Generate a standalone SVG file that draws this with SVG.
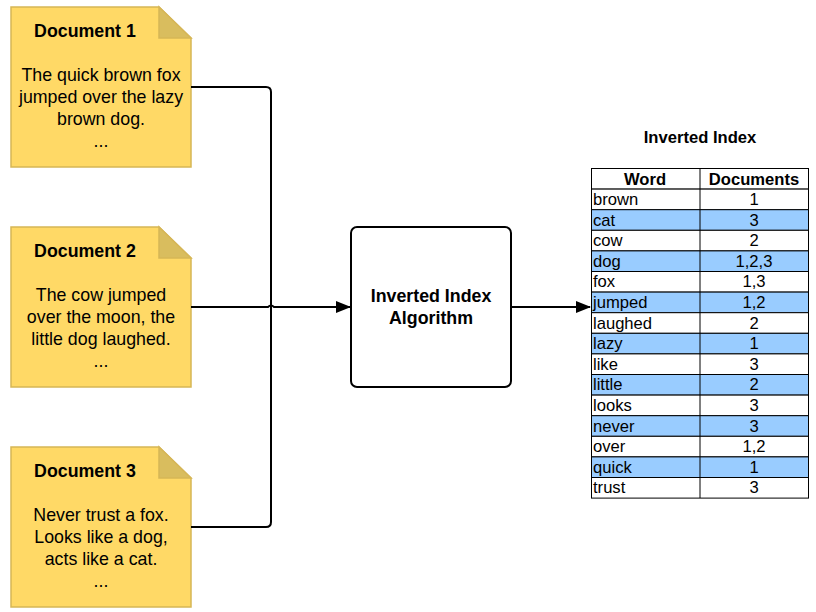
<svg xmlns="http://www.w3.org/2000/svg" width="816" height="612" viewBox="0 0 816 612">
<style>
.doc{fill:#ffd966;stroke:#d6b656;stroke-width:1.5}
.fold{fill:#d9bd5e;stroke:#d6b656;stroke-width:1.5}
.t{font-family:"Liberation Sans",Arial,sans-serif;font-size:17.8px;fill:#000;text-anchor:middle}
.b{font-weight:bold}
.c{fill:none;stroke:#000;stroke-width:2}
.cell{stroke:#000;stroke-width:1}
.w{fill:#fff}
.bl{fill:#99ccff}
.tt{font-family:"Liberation Sans",Arial,sans-serif;font-size:16.6px;fill:#000}
</style>
<defs>
<marker id="ah" markerWidth="15" markerHeight="12" refX="14" refY="6" orient="auto" markerUnits="userSpaceOnUse" viewBox="0 0 15 12">
<path d="M0,0 L15,6 L0,12 Z" fill="#000"/>
</marker>
</defs>
<rect width="816" height="612" fill="#fff"/>
<g id="doc1">
<path class="doc" d="M11,7 H159 L191,38 V167 H11 Z"/>
<path class="fold" d="M159,7 V38 H191 Z"/>
<text class="t b" x="85" y="37">Document 1</text>
<text class="t" x="101" y="81">The quick brown fox</text>
<text class="t" x="101" y="103">jumped over the lazy</text>
<text class="t" x="101" y="125">brown dog.</text>
<text class="t" x="101" y="147">...</text>
</g>
<g id="doc2">
<path class="doc" d="M11,227 H159 L191,258 V387 H11 Z"/>
<path class="fold" d="M159,227 V258 H191 Z"/>
<text class="t b" x="85" y="257">Document 2</text>
<text class="t" x="101" y="301">The cow jumped</text>
<text class="t" x="101" y="323">over the moon, the</text>
<text class="t" x="101" y="345">little dog laughed.</text>
<text class="t" x="101" y="367">...</text>
</g>
<g id="doc3">
<path class="doc" d="M11,447 H159 L191,478 V607 H11 Z"/>
<path class="fold" d="M159,447 V478 H191 Z"/>
<text class="t b" x="85" y="477">Document 3</text>
<text class="t" x="101" y="521">Never trust a fox.</text>
<text class="t" x="101" y="543">Looks like a dog,</text>
<text class="t" x="101" y="565">acts like a cat.</text>
<text class="t" x="101" y="587">...</text>
</g>
<g id="algorithm">
<rect x="351" y="227" width="160" height="160" rx="6" fill="#fff" stroke="#000" stroke-width="2"/>
<text class="t b" x="431" y="302">Inverted Index</text>
<text class="t b" x="431" y="324">Algorithm</text>
</g>
<g id="connectors">
<path class="c" d="M191,87 H266 Q271,87 271,92 V307"/>
<path class="c" d="M191,527 H266 Q271,527 271,522 V307"/>
<path class="c" d="M191,307 H268 Q271,304 274,307 H350" marker-end="url(#ah)"/>
<path class="c" d="M511,307 H590" marker-end="url(#ah)"/>
</g>
<g id="index">
<text class="tt b" x="700" y="143" text-anchor="middle">Inverted Index</text>
<rect class="cell w" x="591.5" y="168.5" width="217" height="20.6"/>
<text class="tt b" x="645" y="185" text-anchor="middle">Word</text>
<text class="tt b" x="754" y="185" text-anchor="middle">Documents</text>
<g id="rows">
<rect class="cell w" x="591.5" y="189.1" width="217" height="20.6"/><text class="tt" x="593" y="205">brown</text><text class="tt" x="754" y="205" text-anchor="middle">1</text>
<rect class="cell bl" x="591.5" y="209.7" width="217" height="20.6"/><text class="tt" x="593" y="225.6">cat</text><text class="tt" x="754" y="225.6" text-anchor="middle">3</text>
<rect class="cell w" x="591.5" y="230.3" width="217" height="20.6"/><text class="tt" x="593" y="246.2">cow</text><text class="tt" x="754" y="246.2" text-anchor="middle">2</text>
<rect class="cell bl" x="591.5" y="250.9" width="217" height="20.6"/><text class="tt" x="593" y="266.8">dog</text><text class="tt" x="754" y="266.8" text-anchor="middle">1,2,3</text>
<rect class="cell w" x="591.5" y="271.5" width="217" height="20.6"/><text class="tt" x="593" y="287.4">fox</text><text class="tt" x="754" y="287.4" text-anchor="middle">1,3</text>
<rect class="cell bl" x="591.5" y="292.1" width="217" height="20.6"/><text class="tt" x="593" y="308">jumped</text><text class="tt" x="754" y="308" text-anchor="middle">1,2</text>
<rect class="cell w" x="591.5" y="312.7" width="217" height="20.6"/><text class="tt" x="593" y="328.6">laughed</text><text class="tt" x="754" y="328.6" text-anchor="middle">2</text>
<rect class="cell bl" x="591.5" y="333.3" width="217" height="20.6"/><text class="tt" x="593" y="349.2">lazy</text><text class="tt" x="754" y="349.2" text-anchor="middle">1</text>
<rect class="cell w" x="591.5" y="353.9" width="217" height="20.6"/><text class="tt" x="593" y="369.8">like</text><text class="tt" x="754" y="369.8" text-anchor="middle">3</text>
<rect class="cell bl" x="591.5" y="374.5" width="217" height="20.6"/><text class="tt" x="593" y="390.4">little</text><text class="tt" x="754" y="390.4" text-anchor="middle">2</text>
<rect class="cell w" x="591.5" y="395.1" width="217" height="20.6"/><text class="tt" x="593" y="411">looks</text><text class="tt" x="754" y="411" text-anchor="middle">3</text>
<rect class="cell bl" x="591.5" y="415.7" width="217" height="20.6"/><text class="tt" x="593" y="431.6">never</text><text class="tt" x="754" y="431.6" text-anchor="middle">3</text>
<rect class="cell w" x="591.5" y="436.3" width="217" height="20.6"/><text class="tt" x="593" y="452.2">over</text><text class="tt" x="754" y="452.2" text-anchor="middle">1,2</text>
<rect class="cell bl" x="591.5" y="456.9" width="217" height="20.6"/><text class="tt" x="593" y="472.8">quick</text><text class="tt" x="754" y="472.8" text-anchor="middle">1</text>
<rect class="cell w" x="591.5" y="477.5" width="217" height="20.6"/><text class="tt" x="593" y="493.4">trust</text><text class="tt" x="754" y="493.4" text-anchor="middle">3</text>
</g>
<line class="cell" x1="700" y1="168.5" x2="700" y2="498"/>
</g>
</svg>
